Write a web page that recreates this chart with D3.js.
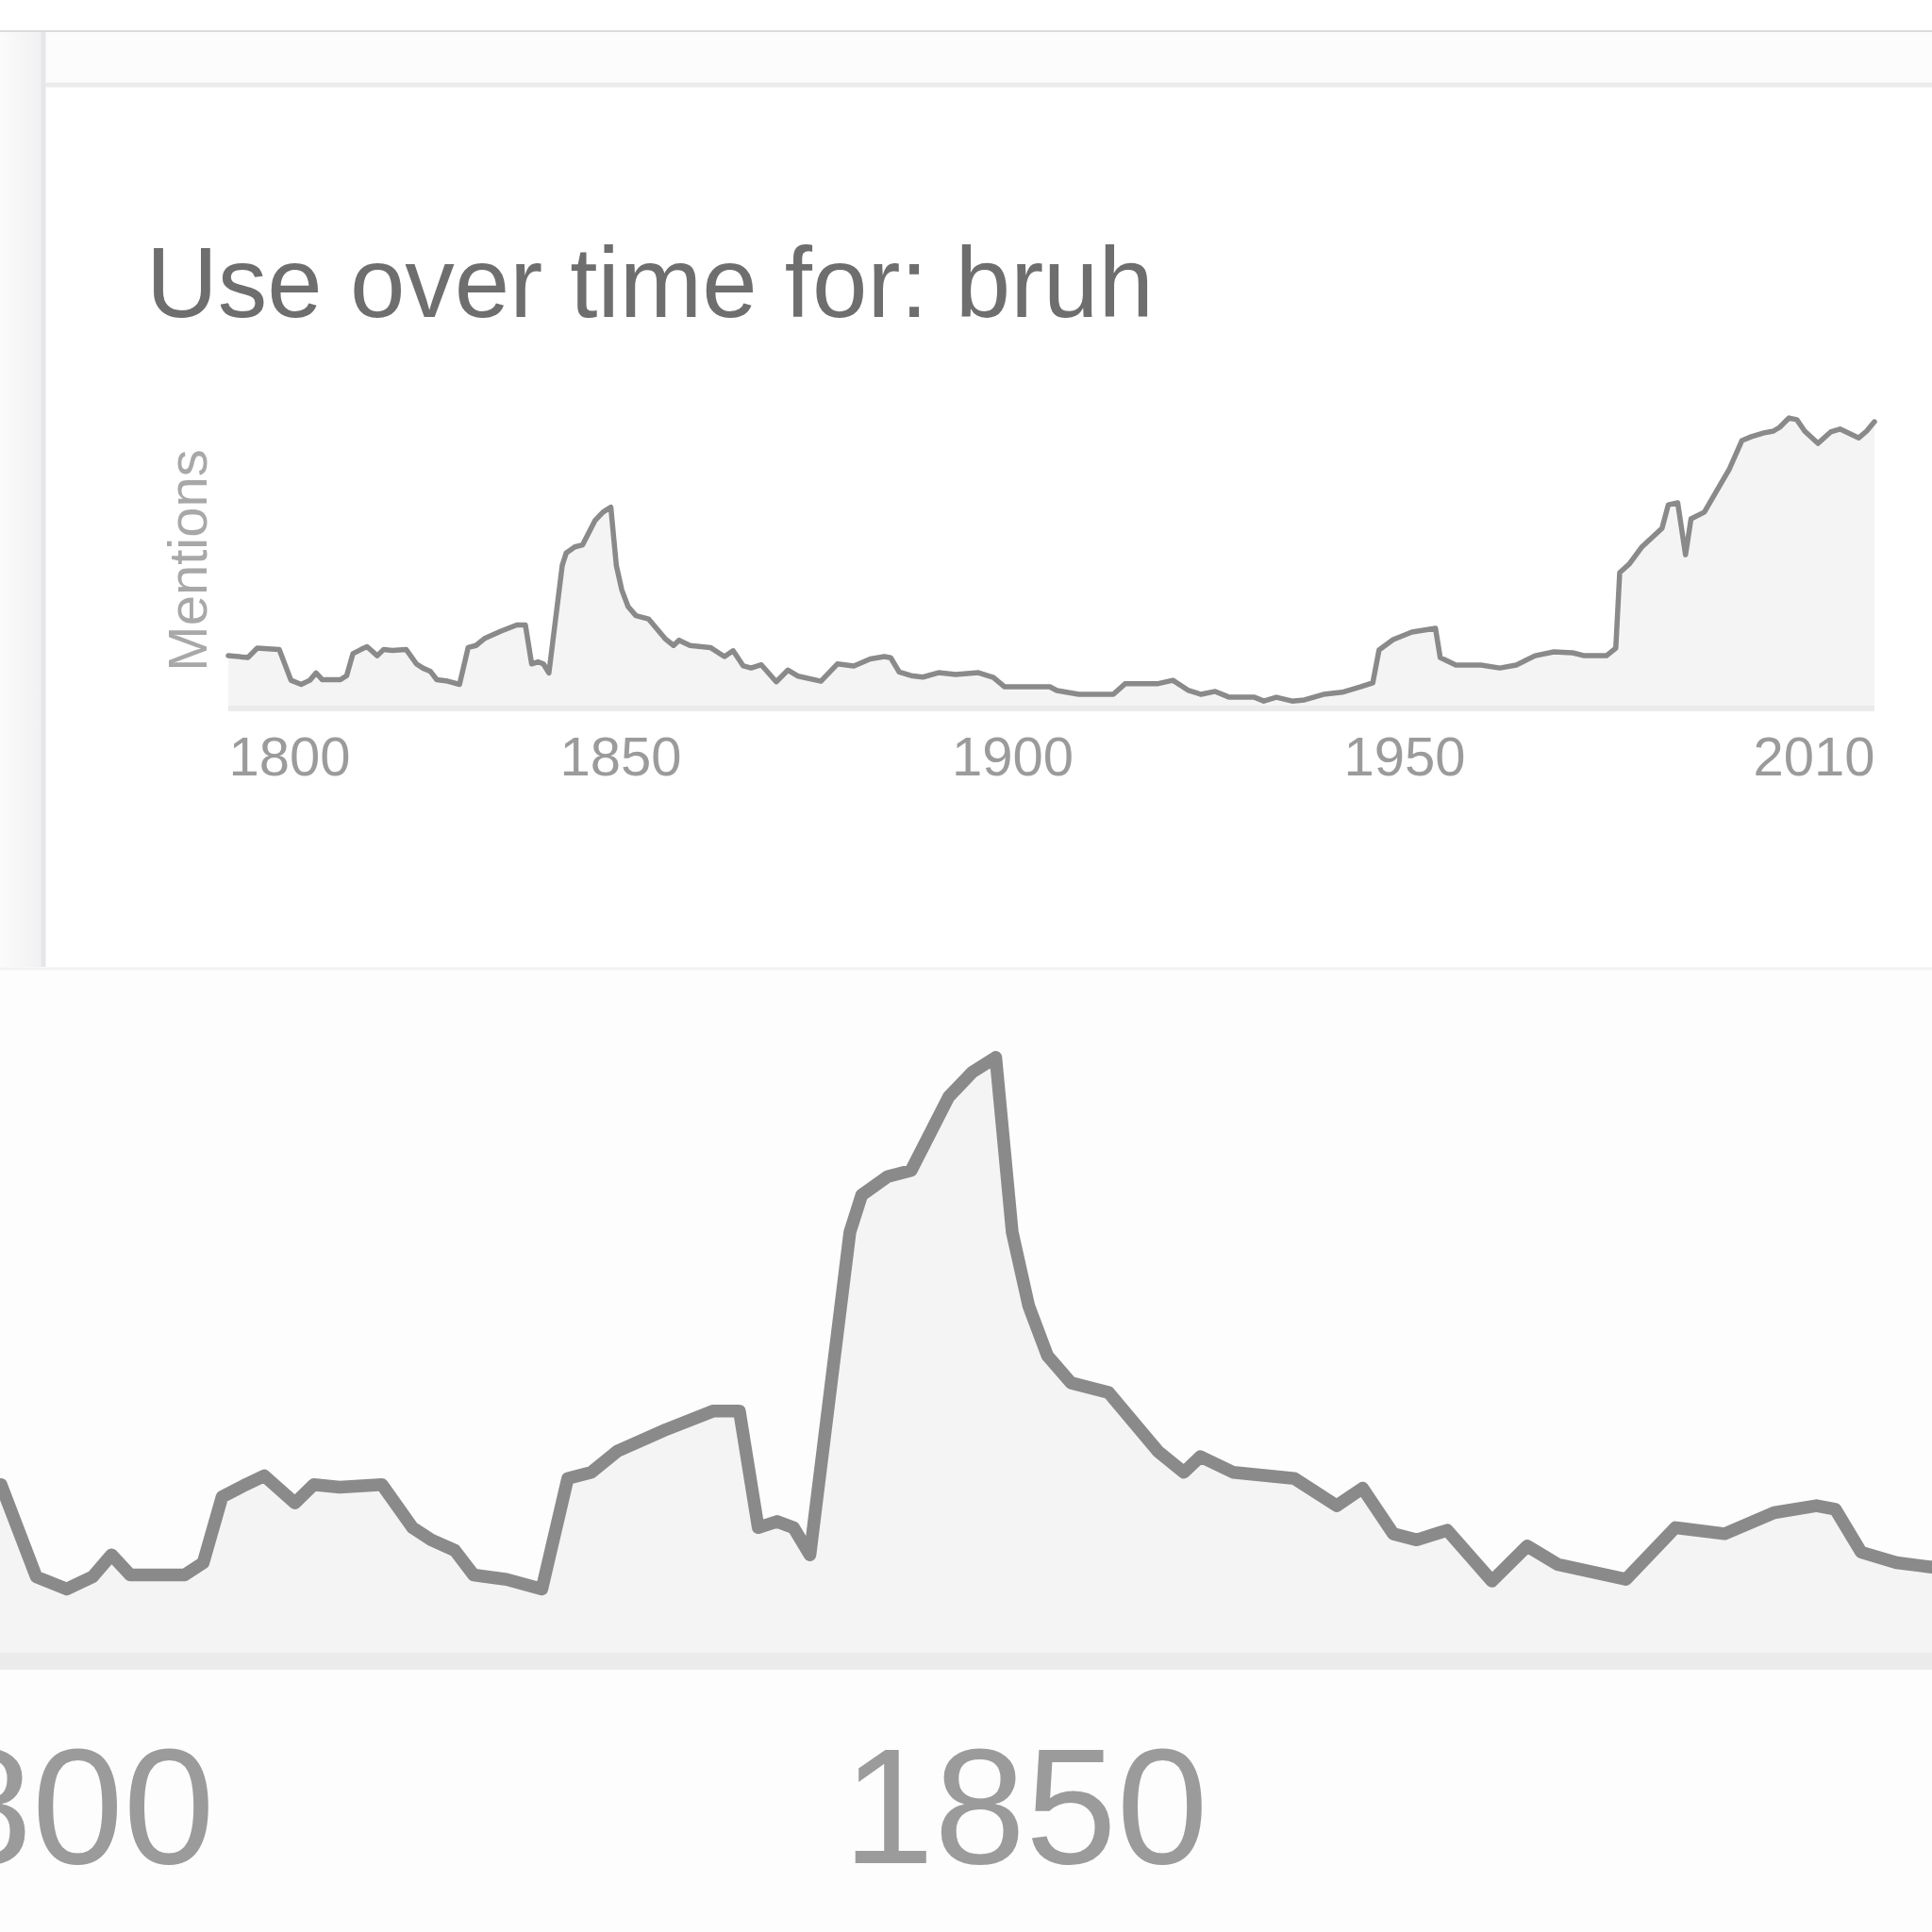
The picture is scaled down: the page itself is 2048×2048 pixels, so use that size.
<!DOCTYPE html>
<html><head><meta charset="utf-8">
<script src="https://cdn.jsdelivr.net/npm/d3@7/dist/d3.min.js"></script>
<style>html,body{margin:0;padding:0;background:#fff}svg{display:block}</style>
</head><body>
<svg id="c" width="2048" height="2048"></svg>
<script>
// ---- data ----
const years = [1800,1802.5,1803.7,1805.5,1806.5,1808.0,1809.3,1810.4,1811.2,1812.0,
  1814.3,1815.1,1815.9,1816.9,1817.7,1819.0,1819.8,1820.9,1822.7,1824.0,
  1824.8,1825.8,1826.6,1828.0,1829.5,1830.6,1831.6,1832.7,1834.8,1836.8,
  1837.9,1838.7,1839.5,1840.2,1840.9,1842.6,1843.1,1844.2,1845.2,1846.8,
  1847.8,1848.8,1849.5,1850.2,1851.0,1852.0,1853.6,1855.7,1856.8,1857.5,
  1858.9,1861.5,1863.3,1864.4,1865.7,1866.7,1868.0,1869.9,1871.4,1872.7,
  1875.6,1877.7,1879.8,1881.9,1883.7,1884.5,1885.6,1887.1,1888.6,1890.6,
  1892.8,1895.7,1897.6,1899,1904.8,1905.7,1908.5,1912.9,1914.4,1918.5,
  1920.5,1922.5,1924.1,1925.9,1927.7,1930.9,1932.1,1933.7,1935.7,1937.3,
  1939.7,1942.1,1944.5,1946,1946.8,1948.6,1951,1954,1954.6,1956.6,
  1959.8,1962.2,1964.3,1966.7,1969.1,1971.5,1973,1975.8,1977,1977.5,
  1978.7,1980.3,1982.9,1983.7,1984.9,1985.9,1986.6,1988.3,1991.5,1993.1,
  1994.3,1995.9,1997.1,1997.9,1999.1,2000.1,2001.1,2002.8,2004.4,2005.6,
  2008,2009,2010];
const mentions = [19.0,18.4,21.6,21.3,21.1,10.6,9.2,10.6,13.1,10.8,
  10.8,12.2,19.7,21.1,22.1,19.0,21.1,20.8,21.1,16.2,
  14.8,13.6,10.8,10.3,9.2,21.8,22.5,24.9,27.4,29.5,
  29.5,16.2,16.9,16.2,13.1,49.9,54.1,56.2,56.9,65.3,
  68.1,69.8,49.9,41.5,35.8,32.7,31.6,24.9,22.5,24.3,
  22.5,21.8,18.7,20.7,15.5,14.8,15.9,10.1,14.1,12.0,
  10.3,16.2,15.5,17.9,18.7,18.3,13.4,12.2,11.7,13.2,
  12.6,13.2,11.6,8.4,8.4,7.1,5.8,5.8,9.4,9.4,
  10.6,7.1,5.8,6.8,4.8,4.8,3.5,4.8,3.5,3.9,
  5.8,6.5,8.4,9.7,21.0,24.5,27.1,28.4,18.4,15.8,
  15.8,14.8,15.8,19.0,20.3,20.0,19.0,19.0,21.6,47.4,
  50.3,56.1,62.6,70.6,71.3,53.5,65.8,68.1,82.9,92.6,
  93.9,95.2,95.8,97.1,100.3,99.7,95.8,91.6,95.5,96.5,
  93.5,95.8,99.0];
const tickYears = [1800, 1850, 1900, 1950, 2010];
const titleText = "Use over time for: bruh";
const yLabel = "Mentions";

// ---- drawing ----
const W = 2048, H = 2048;
const svg = d3.select("#c");
const FONT = "'Liberation Sans', Arial, Helvetica, sans-serif";
const data = years.map((yr, i) => ({year: yr, value: mentions[i]}));

const x = d3.scaleLinear().domain([1800, 2010]).range([242, 1987]);
const y = d3.scaleLinear().domain([0, 100]).range([754, 444]);

const defs = svg.append("defs");
const grad = defs.append("linearGradient").attr("id", "strip").attr("x1", 0).attr("x2", 1).attr("y1", 0).attr("y2", 0);
grad.append("stop").attr("offset", "0%").attr("stop-color", "#fbfbfb");
grad.append("stop").attr("offset", "100%").attr("stop-color", "#f1f1f3");
defs.append("clipPath").attr("id", "bottomClip")
  .append("rect").attr("x", 0).attr("y", 1028).attr("width", W).attr("height", H - 1028);

// page background
svg.append("rect").attr("width", W).attr("height", H).attr("fill", "#ffffff");
// browser-like frame in top part
svg.append("rect").attr("x", 48).attr("y", 34).attr("width", W - 48).attr("height", 54).attr("fill", "#fcfcfc");
svg.append("line").attr("x1", 0).attr("x2", W).attr("y1", 33).attr("y2", 33).attr("stroke", "#dcdcdc").attr("stroke-width", 2);
svg.append("rect").attr("x", 0).attr("y", 34).attr("width", 44).attr("height", 991).attr("fill", "url(#strip)");
svg.append("line").attr("x1", 46).attr("x2", 46).attr("y1", 34).attr("y2", 1025).attr("stroke", "#e6e6e8").attr("stroke-width", 5);
svg.append("line").attr("x1", 48).attr("x2", W).attr("y1", 90).attr("y2", 90).attr("stroke", "#ebebeb").attr("stroke-width", 5);
// bottom panel background
svg.append("rect").attr("x", 0).attr("y", 1025).attr("width", W).attr("height", H - 1025).attr("fill", "#fdfdfd");
svg.append("line").attr("x1", 0).attr("x2", W).attr("y1", 1027).attr("y2", 1027).attr("stroke", "#f2f2f2").attr("stroke-width", 3);

function drawChart(g, lw) {
  g.append("path").datum(data)
    .attr("d", d3.area().x(d => x(d.year)).y0(y(0)).y1(d => y(d.value)))
    .attr("fill", "#f4f4f4");
  g.append("line").attr("x1", x(1800)).attr("x2", x(2010))
    .attr("y1", y(0) - 3).attr("y2", y(0) - 3)
    .attr("stroke", "#ebebeb").attr("stroke-width", 6);
  g.append("path").datum(data)
    .attr("d", d3.line().x(d => x(d.year)).y(d => y(d.value)))
    .attr("fill", "none").attr("stroke", "#8a8a8a").attr("stroke-width", lw)
    .attr("stroke-linejoin", "round").attr("stroke-linecap", "round");
  const ax = g.append("g").attr("transform", `translate(0,${y(0)})`)
    .call(d3.axisBottom(x).tickValues(tickYears).tickFormat(d3.format("d")).tickSize(0).tickPadding(27));
  ax.select(".domain").remove();
  ax.selectAll("text")
    .attr("font-family", FONT).attr("font-size", 58).attr("fill", "#9b9b9b")
    .attr("text-anchor", (d, i) => i === 0 ? "start" : (i === tickYears.length - 1 ? "end" : "middle"));
}

// upper chart
const upper = svg.append("g");
upper.append("text").attr("x", 155).attr("y", 336)
  .attr("font-family", FONT).attr("font-size", 105).attr("fill", "#6e6e6e")
  .text(titleText);
upper.append("text").attr("transform", "translate(219,594) rotate(-90)")
  .attr("text-anchor", "middle").attr("font-family", FONT).attr("font-size", 58).attr("fill", "#a8a8a8")
  .text(yLabel);
drawChart(upper, 5.5);

// magnified copy in the bottom half
const bottomOuter = svg.append("g").attr("clip-path", "url(#bottomClip)");
const magnified = bottomOuter.append("g").attr("transform", "translate(-887,-492) scale(3)");
drawChart(magnified, 4.5);
</script>
</body></html>
